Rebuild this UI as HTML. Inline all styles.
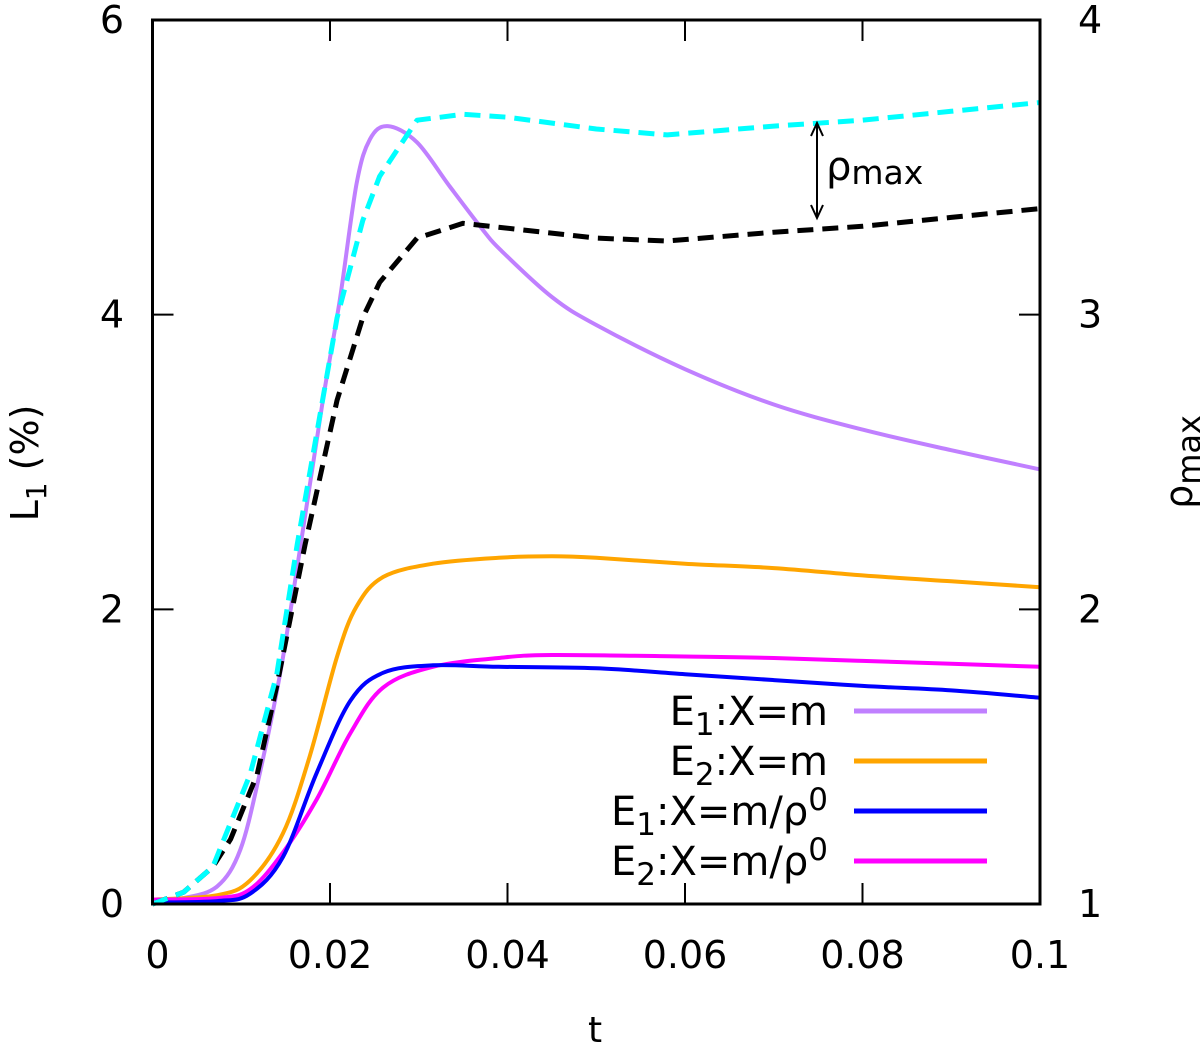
<!DOCTYPE html>
<html><head><meta charset="utf-8"><style>
html,body{margin:0;padding:0;background:#fff;}
svg{display:block;font-family:"DejaVu Sans","Liberation Sans",sans-serif;}
</style></head><body>
<svg id="chart" width="1200" height="1046" viewBox="0 0 1200 1046" xmlns="http://www.w3.org/2000/svg">
<g id="plot"></g>
<g id="axes"></g>
<text x="595" y="1042" font-size="36" text-anchor="middle">t</text>
<text transform="translate(38,463) rotate(-90)" font-size="38" text-anchor="middle">L<tspan font-size="28" dy="8">1</tspan><tspan dy="-8"> (%)</tspan></text>
<text transform="translate(1192,462) rotate(-90)" font-size="38" text-anchor="middle">ρ<tspan font-size="32" dy="8">max</tspan></text>
<g>
<line x1="817" y1="125" x2="817" y2="216" stroke="#000" stroke-width="2"/>
<polyline points="811,136 817,123 823,136" fill="none" stroke="#000" stroke-width="2"/>
<polyline points="811,205 817,218 823,205" fill="none" stroke="#000" stroke-width="2"/>
<text x="826" y="180" font-size="40">ρ<tspan font-size="33" dy="4">max</tspan></text>
</g>
<g id="legend"></g>
</svg>
<script>
const tPurple=[0,0.0035,0.0073,0.0099,0.0121,0.0144,0.0166,0.0192,0.0211,0.023,0.0245,0.0265,0.0298,0.0335,0.0373,0.0392,0.045,0.05,0.06,0.07,0.08,0.09,0.1];
const vPurple=[0.02,0.04,0.12,0.37,0.89,1.57,2.40,3.42,4.10,4.89,5.19,5.28,5.17,4.87,4.57,4.44,4.12,3.93,3.63,3.39,3.22,3.08,2.95];
const tOrange=[0,0.0073,0.011,0.0147,0.0177,0.0208,0.023,0.026,0.0316,0.039,0.045,0.05,0.06,0.07,0.08,0.09,0.1];
const vOrange=[0.03,0.06,0.16,0.48,1.0,1.68,2.02,2.22,2.31,2.35,2.36,2.35,2.31,2.28,2.23,2.19,2.15];
const tBlue=[0,0.0073,0.011,0.0147,0.0185,0.0223,0.026,0.0316,0.039,0.05,0.06,0.07,0.08,0.09,0.1];
const vBlue=[0.01,0.02,0.07,0.32,0.89,1.38,1.57,1.62,1.61,1.60,1.56,1.52,1.48,1.45,1.40];
const tMagenta=[0,0.0073,0.011,0.0147,0.0185,0.0223,0.026,0.0316,0.039,0.045,0.06,0.07,0.08,0.09,0.1];
const vMagenta=[0.03,0.04,0.10,0.35,0.71,1.16,1.47,1.61,1.67,1.69,1.68,1.67,1.65,1.63,1.61];
const tCyan=[0,0.0035,0.0068,0.011,0.014,0.0163,0.0208,0.0237,0.0256,0.0298,0.035,0.04,0.05,0.058,0.07,0.08,0.09,0.1];
const rCyan=[1.0,1.04,1.126,1.44,1.78,2.22,2.99,3.32,3.47,3.66,3.68,3.67,3.63,3.61,3.64,3.66,3.69,3.72];
const tBlack=[0,0.0035,0.0068,0.0088,0.0118,0.014,0.0172,0.0208,0.0237,0.0256,0.0298,0.035,0.05,0.058,0.07,0.08,0.09,0.1];
const rBlack=[1.0,1.04,1.126,1.22,1.44,1.74,2.22,2.71,2.99,3.11,3.26,3.31,3.26,3.25,3.28,3.30,3.33,3.36];
const xTicks=[0,0.02,0.04,0.06,0.08,0.1];
const xTickLabels=["0","0.02","0.04","0.06","0.08","0.1"];
const yTicks=[0,2,4,6];
const y2Ticks=[1,2,3,4];
const legendLabels=[["E","1",":X=m",""],["E","2",":X=m",""],["E","1",":X=m/ρ","0"],["E","2",":X=m/ρ","0"]];

const L=152.5,R=1040,T=20,B=904;
const xs=t=>L+(t-0)/0.1*(R-L);
const ys=v=>B-(v/6)*(B-T);
const y2s=r=>B-((r-1)/3)*(B-T);
const NS="http://www.w3.org/2000/svg";
function mk(tag,attrs,parent){const e=document.createElementNS(NS,tag);for(const k in attrs)e.setAttribute(k,attrs[k]);parent.appendChild(e);return e;}
const plot=document.getElementById('plot'),axes=document.getElementById('axes'),leg=document.getElementById('legend');

function smoothPath(P){
  let d='M'+P[0][0].toFixed(1)+','+P[0][1].toFixed(1);
  for(let i=0;i<P.length-1;i++){
    const p0=P[Math.max(i-1,0)],p1=P[i],p2=P[i+1],p3=P[Math.min(i+2,P.length-1)];
    const c1=[p1[0]+(p2[0]-p0[0])/6,p1[1]+(p2[1]-p0[1])/6];
    const c2=[p2[0]-(p3[0]-p1[0])/6,p2[1]-(p3[1]-p1[1])/6];
    d+=' C'+c1[0].toFixed(1)+','+c1[1].toFixed(1)+' '+c2[0].toFixed(1)+','+c2[1].toFixed(1)+' '+p2[0].toFixed(1)+','+p2[1].toFixed(1);
  }
  return d;
}
function linePath(P){return P.map((p,i)=>(i?'L':'M')+p[0].toFixed(1)+','+p[1].toFixed(1)).join(' ');}
function series(ts,vs,scale,color,name,dash){
  const P=ts.map((t,i)=>[xs(t),scale(vs[i])]);
  const p=mk('path',{d:dash?linePath(P):smoothPath(P),fill:'none',stroke:color,'stroke-width':dash?5:4,'stroke-linejoin':'round'},plot);
  if(dash)p.setAttribute('stroke-dasharray','16,9');
  
  
}
series(tPurple,vPurple,ys,'#c080ff','series-e1-x-m',false);
series(tOrange,vOrange,ys,'#ffa500','series-e2-x-m',false);
series(tMagenta,vMagenta,ys,'#ff00ff','series-e2-x-m-rho0',false);
series(tBlue,vBlue,ys,'#0000ff','series-e1-x-m-rho0',false);
series(tBlack,rBlack,y2s,'#000000','series-rho-max-black',true);
series(tCyan,rCyan,y2s,'#00ffff','series-rho-max-cyan',true);

const frame=mk('rect',{x:L,y:T,width:R-L,height:B-T,fill:'none',stroke:'#000','stroke-width':3},axes);


xTicks.forEach((t,i)=>{
  const x=xs(t);
  mk('line',{x1:x,y1:B,x2:x,y2:B-21,stroke:'#000','stroke-width':2},axes);
  mk('line',{x1:x,y1:T,x2:x,y2:T+21,stroke:'#000','stroke-width':2},axes);
  const tx=mk('text',{x:x+(i===0?5:0),y:968,'font-size':38,'text-anchor':'middle'},axes);
  tx.textContent=xTickLabels[i];
  
  
});
yTicks.forEach(v=>{
  const y=ys(v);
  mk('line',{x1:L,y1:y,x2:L+21,y2:y,stroke:'#000','stroke-width':2},axes);
  const tx=mk('text',{x:124,y:y+13,'font-size':38,'text-anchor':'end'},axes);
  tx.textContent=String(v);
  
  
});
y2Ticks.forEach(r=>{
  const y=y2s(r);
  mk('line',{x1:R,y1:y,x2:R-21,y2:y,stroke:'#000','stroke-width':2},axes);
  const tx=mk('text',{x:1078,y:y+13,'font-size':38,'text-anchor':'start'},axes);
  tx.textContent=String(r);
  
  
});
const legColors=['#c080ff','#ffa500','#0000ff','#ff00ff'];
legendLabels.forEach((lb,i)=>{
  const y=711+i*50;
  const ln=mk('line',{x1:854,y1:y,x2:987,y2:y,stroke:legColors[i],'stroke-width':5},leg);
  
  
  const tx=mk('text',{x:828,y:y+14,'font-size':40,'text-anchor':'end'},leg);
  
  
  const a=mk('tspan',{},tx);a.textContent=lb[0];
  const b=mk('tspan',{'font-size':31,dy:10},tx);b.textContent=lb[1];
  const c=mk('tspan',{dy:-10},tx);c.textContent=lb[2];
  if(lb[3]){const d=mk('tspan',{'font-size':31,dy:-15},tx);d.textContent=lb[3];}
});
</script>
</body></html>
